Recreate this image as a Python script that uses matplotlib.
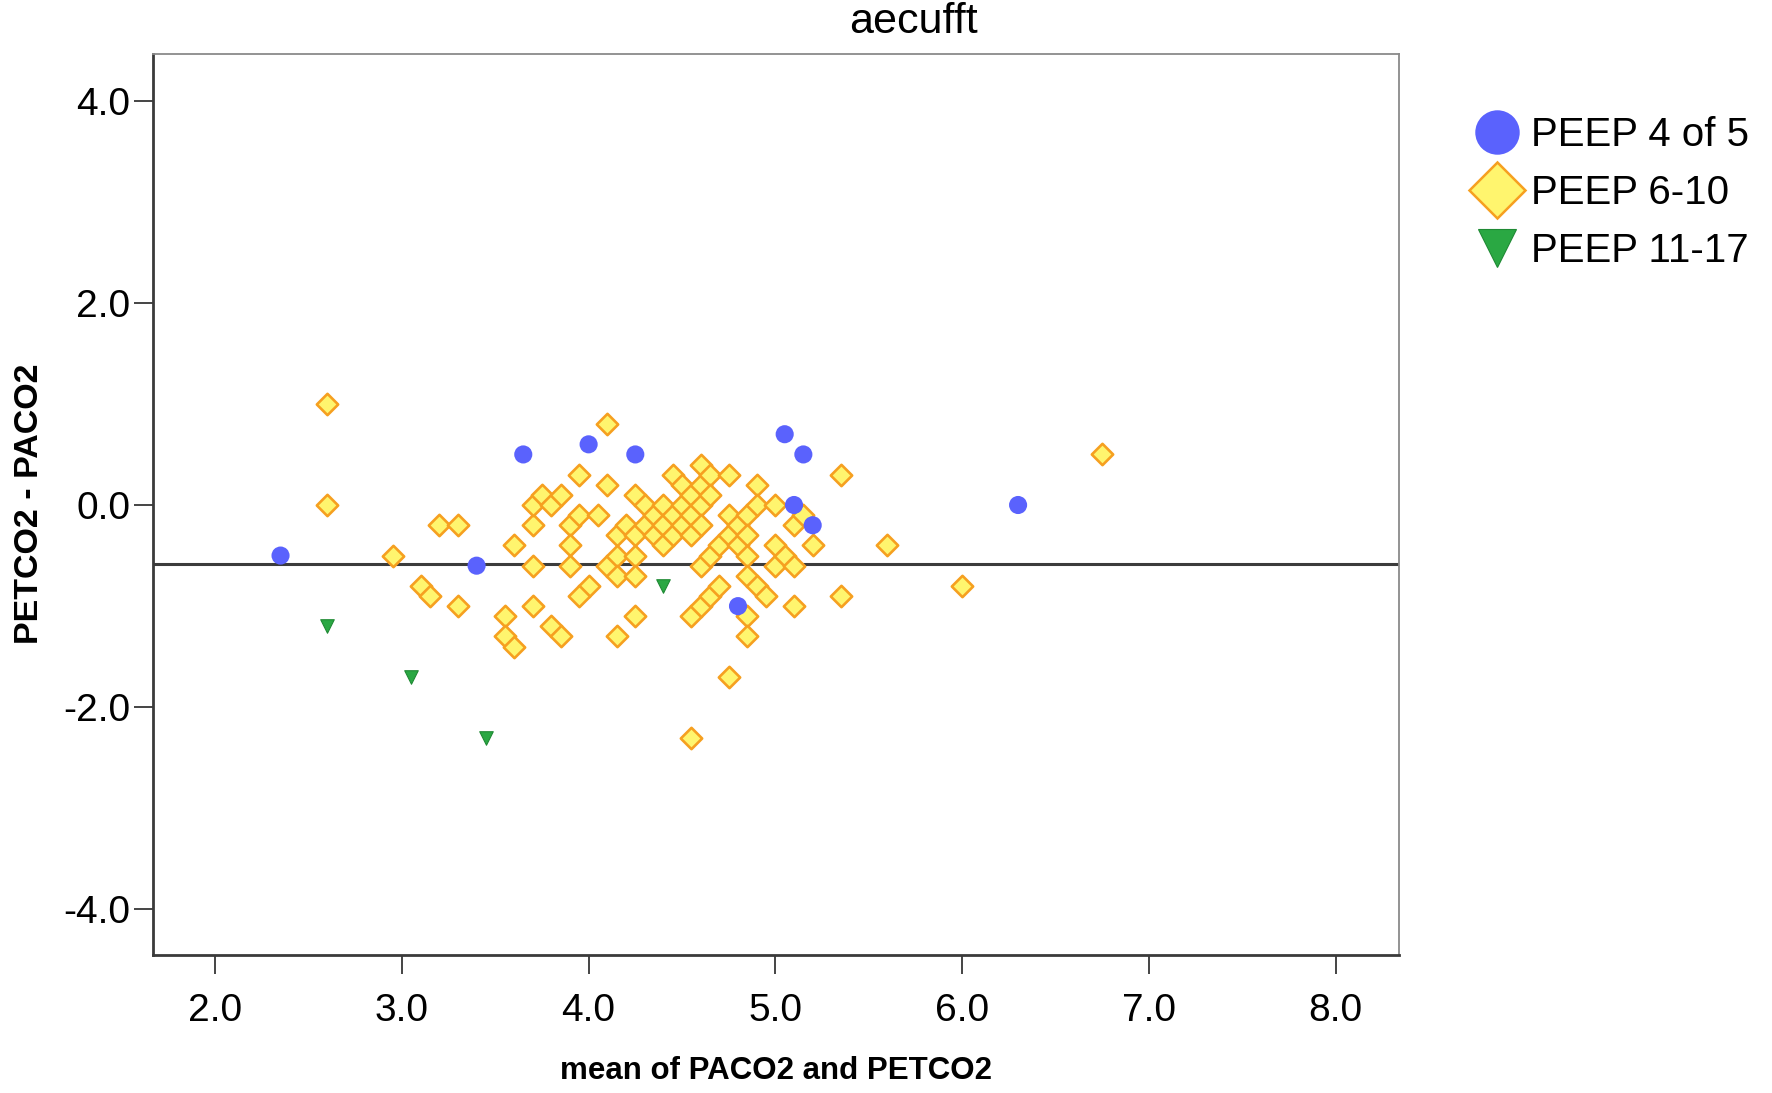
import matplotlib
matplotlib.use("Agg")
import matplotlib.pyplot as plt
from matplotlib.lines import Line2D

plt.rcParams['font.family'] = ['Liberation Sans', 'DejaVu Sans']

title = "aecufft"
x_label = "mean of PACO2 and PETCO2"
y_label = "PETCO2 - PACO2"
x_ticks = [2.0, 3.0, 4.0, 5.0, 6.0, 7.0, 8.0]
y_ticks = [-4.0, -2.0, 0.0, 2.0, 4.0]
mean_diff = -0.58

labels = ["PEEP 4 of 5", "PEEP 6-10", "PEEP 11-17"]

peep_low_x = [2.35, 3.40, 3.65, 4.00, 4.25, 5.05, 5.15, 5.10, 5.20, 4.80, 6.30]
peep_low_y = [-0.5, -0.6, 0.5, 0.6, 0.5, 0.7, 0.5, 0.0, -0.2, -1.0, 0.0]

peep_mid_x = [2.60, 2.60, 2.95, 3.20, 3.30, 3.10, 3.15, 3.30,
              3.55, 3.55, 3.60, 3.60, 3.70, 3.70, 3.75, 3.80, 3.85,
              3.70, 3.70, 3.80, 3.85, 3.90, 3.90, 3.90, 3.95, 3.95,
              4.05, 4.00, 3.95, 4.10, 4.10, 4.15, 4.25,
              4.10, 4.15, 4.15, 4.15, 4.20, 4.25, 4.25, 4.25, 4.25,
              4.30, 4.30, 4.35, 4.35, 4.40, 4.40, 4.40,
              4.45, 4.45, 4.45, 4.50, 4.50, 4.50,
              4.55, 4.55, 4.55, 4.55, 4.55,
              4.60, 4.60, 4.60, 4.60, 4.60, 4.60,
              4.65, 4.65, 4.65, 4.65,
              4.70, 4.70, 4.75, 4.75, 4.75, 4.75,
              4.80, 4.80,
              4.85, 4.85, 4.85, 4.85, 4.85, 4.85,
              4.90, 4.90, 4.90, 4.95,
              5.00, 5.00, 5.00, 5.05,
              5.10, 5.10, 5.10, 5.15, 5.20,
              5.35, 5.35, 5.60, 6.00, 6.75]
peep_mid_y = [1.0, 0.0, -0.5, -0.2, -0.2, -0.8, -0.9, -1.0,
              -1.1, -1.3, -1.4, -0.4, -0.2, 0.0, 0.1, 0.0, 0.1,
              -0.6, -1.0, -1.2, -1.3, -0.2, -0.4, -0.6, 0.3, -0.1,
              -0.1, -0.8, -0.9, 0.8, 0.2, -1.3, -1.1,
              -0.6, -0.3, -0.5, -0.7, -0.2, 0.1, -0.3, -0.5, -0.7,
              0.0, -0.2, -0.1, -0.3, 0.0, -0.2, -0.4,
              0.3, -0.1, -0.3, 0.2, 0.0, -0.2,
              0.1, -0.1, -0.3, -1.1, -2.3,
              0.4, 0.2, 0.0, -0.2, -0.6, -1.0,
              0.3, 0.1, -0.5, -0.9,
              -0.4, -0.8, 0.3, -0.1, -0.3, -1.7,
              -0.2, -0.4,
              -0.1, -0.3, -0.5, -0.7, -1.1, -1.3,
              0.2, 0.0, -0.8, -0.9,
              0.0, -0.4, -0.6, -0.5,
              -0.2, -0.6, -1.0, -0.1, -0.4,
              0.3, -0.9, -0.4, -0.8, 0.5]

peep_high_x = [2.60, 3.05, 3.45, 4.40]
peep_high_y = [-1.2, -1.7, -2.3, -0.8]

blue = "#5a62fd"
yellow = "#fff56e"
orange = "#f6a020"
green = "#2aa843"
green_edge = "#1f8a34"

W, H = 1772, 1093
fig = plt.figure(figsize=(W / 100, H / 100), dpi=100)
ax = fig.add_axes([153 / W, 1 - 955 / H, (1399 - 153) / W, (955 - 54) / H])

ax.axhline(mean_diff, color="#3c3c3c", lw=2.2, zorder=1)

ax.scatter(peep_mid_x, peep_mid_y, marker="D", s=118, facecolor=yellow,
           edgecolor=orange, linewidth=1.9, zorder=3)
ax.scatter(peep_low_x, peep_low_y, marker="o", s=170, facecolor=blue,
           edgecolor="none", zorder=4)
ax.scatter(peep_high_x, peep_high_y, marker="v", s=95, facecolor=green,
           edgecolor=green_edge, linewidth=0.8, zorder=4)

ax.set_xlim(1.667, 8.34)
ax.set_ylim(-4.45, 4.46)
ax.set_xticks(x_ticks)
ax.set_xticklabels([f"{v:.1f}" for v in x_ticks])
ax.set_yticks(y_ticks)
ax.set_yticklabels([f"{v:.1f}" for v in y_ticks])
ax.tick_params(axis="both", direction="out", length=13.5, width=1.4,
               color="#444444", labelsize=28, labelcolor="black")
ax.tick_params(axis="x", pad=14)
ax.tick_params(axis="y", pad=3)

for side in ["left", "bottom"]:
    ax.spines[side].set_color("#3a3a3a")
    ax.spines[side].set_linewidth(2.0)
for side in ["top", "right"]:
    ax.spines[side].set_color("#8a8a8a")
    ax.spines[side].set_linewidth(1.3)

ax.set_xlabel(x_label, fontsize=22.5, fontweight="bold", labelpad=19)
fig.text(30 / W, 1 - 504 / H, y_label, fontsize=24.5, fontweight="bold",
         rotation=90, ha="center", va="center")
fig.text(913 / W, 1 - 22 / H, title, fontsize=31, ha="center", va="center")

handles = [
    Line2D([], [], ls="none", marker="o", ms=32, mfc=blue, mec="none"),
    Line2D([], [], ls="none", marker="D", ms=29, mfc=yellow, mec=orange, mew=1.8),
    Line2D([], [], ls="none", marker="v", ms=27, mfc=green, mec=green_edge, mew=0.8),
]
fig.legend(handles, labels, loc="upper left", bbox_to_anchor=(1475 / W, 1 - 116 / H),
           frameon=False, fontsize=29, handlelength=1.1, handletextpad=0.3,
           labelspacing=0.5, borderpad=0, borderaxespad=0)

fig.savefig("out.png", dpi=100, facecolor="white")
